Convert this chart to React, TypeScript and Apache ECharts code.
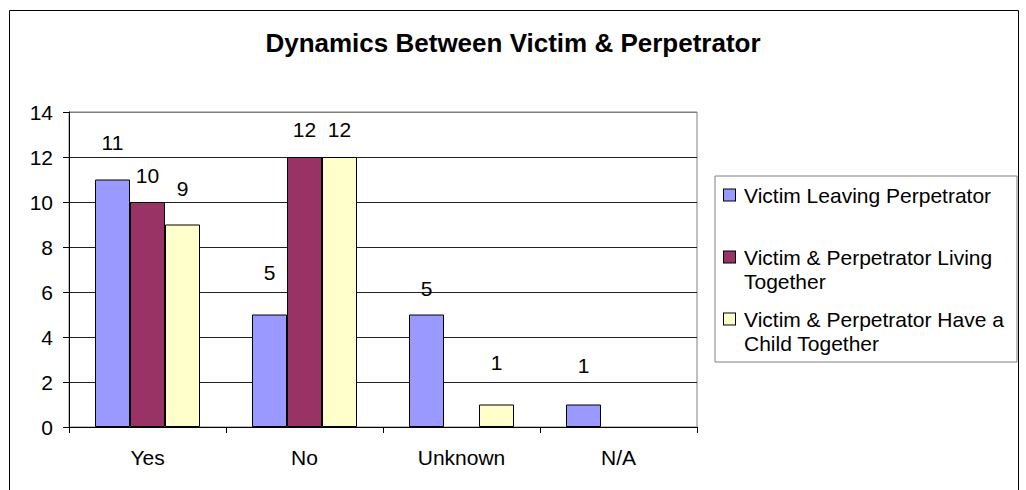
import React, { useEffect, useRef } from "react";
import * as echarts from "echarts";

const categories = ["Yes", "No", "Unknown", "N/A"];
const seriesNames = [
  "Victim Leaving Perpetrator",
  "Victim & Perpetrator Living Together",
  "Victim & Perpetrator Have a Child Together",
];
const leaving = [11, 5, 5, 1];
const livingTogether = [10, 12, null, null];
const childTogether = [9, 12, 1, null];
const seriesValues = [leaving, livingTogether, childTogether];
const seriesColors = ["#9999FF", "#993366", "#FFFFCC"];
const legendLines = [
  ["Victim Leaving Perpetrator", " "],
  ["Victim & Perpetrator Living", "Together"],
  ["Victim & Perpetrator Have a", "Child Together"],
];
// gap (px) between each bar top and its value label, as placed in the original
const leavingLabelGap = [27, 32, 16, 29];
const livingLabelGap = [16, 17, 0, 0];
const childLabelGap = [26, 17, 32, 0];
const labelGaps = [leavingLabelGap, livingLabelGap, childLabelGap];

const yMin = 0;
const yMax = 14;
const yInterval = 2;

const FONT = 'Arial, "Liberation Sans", sans-serif';
const FS = 21;

export default function App() {
  const ref = useRef<HTMLDivElement>(null);
  useEffect(() => {
    if (!ref.current) return;
    const chart = echarts.init(ref.current, null, { renderer: "svg" });
    const rich: any = {
      sp: { width: 9, lineHeight: 24 },
      ind: { width: 20, lineHeight: 24 },
      t: { fontSize: FS, lineHeight: 24, color: "#000", fontFamily: FONT, width: 272 },
    };
    seriesColors.forEach((c, i) => {
      rich["m" + i] = {
        width: 11,
        height: 11,
        backgroundColor: c,
        borderColor: "#000",
        borderWidth: 1,
        lineHeight: 24,
      };
    });
    const gridColors = ["#222", "#222", "#222", "#222", "#222", "#222", "#222", "#808080"];
    chart.setOption({
      animation: false,
      backgroundColor: "#fff",
      title: {
        text: "Dynamics Between Victim & Perpetrator",
        left: "center",
        top: 30,
        padding: 0,
        textStyle: { fontFamily: FONT, fontSize: 26, fontWeight: "bold", color: "#000" },
      },
      graphic: [
        {
          type: "rect",
          shape: { x: 9.5, y: 10.5, width: 1009, height: 500 },
          style: { fill: "none", stroke: "#000", lineWidth: 1 },
          silent: true,
        },
      ],
      legend: {
        orient: "vertical",
        left: 715,
        top: 176,
        padding: [7, 1, 7, 3],
        itemGap: 14,
        itemWidth: 0,
        itemHeight: 0,
        selectedMode: false,
        backgroundColor: "#fff",
        borderColor: "#808080",
        borderWidth: 1,
        data: seriesNames,
        formatter: (name: string) => {
          const i = seriesNames.indexOf(name);
          const [a, b] = legendLines[i];
          return `{m${i}|}{sp|}{t|${a}}\n{ind|}{t|${b}}`;
        },
        textStyle: { fontFamily: FONT, fontSize: FS, color: "#000", lineHeight: 24, rich },
      },
      grid: {
        left: 69,
        top: 112,
        right: 329,
        bottom: 63,
        show: true,
        borderColor: "#808080",
        borderWidth: 1,
        backgroundColor: "#fff",
      },
      xAxis: {
        type: "category",
        data: categories,
        axisLine: { lineStyle: { color: "#000", width: 1 } },
        axisTick: { show: true, length: 6, lineStyle: { color: "#000" } },
        axisLabel: { fontFamily: FONT, fontSize: FS, color: "#000", margin: 20 },
        splitLine: { show: false },
      },
      yAxis: {
        type: "value",
        min: yMin,
        max: yMax,
        interval: yInterval,
        axisLine: { show: true, lineStyle: { color: "#000", width: 1 } },
        axisTick: { show: true, length: 6, lineStyle: { color: "#000" } },
        axisLabel: { fontFamily: FONT, fontSize: FS, color: "#000", margin: 16 },
        splitLine: { show: true, lineStyle: { color: gridColors, width: 1 } },
      },
      series: seriesNames.map((name, si) => ({
        name,
        type: "bar",
        barWidth: 35,
        barGap: "0%",
        itemStyle: { color: seriesColors[si], borderColor: "#000", borderWidth: 1 },
        label: {
          show: true,
          position: "top",
          fontFamily: FONT,
          fontSize: FS,
          color: "#000",
        },
        data: seriesValues[si].map((v, ci) =>
          v === null ? null : { value: v, label: { distance: labelGaps[si][ci] } }
        ),
      })),
    });
    return () => chart.dispose();
  }, []);
  return (
    <div
      ref={ref}
      style={{ position: "absolute", left: 0, top: 0, width: 1026, height: 490 }}
    />
  );
}
